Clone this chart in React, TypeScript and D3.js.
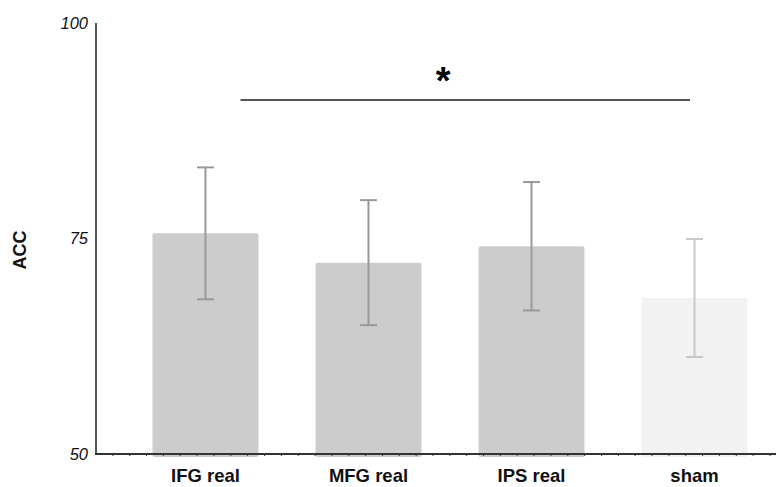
import React from "react";
import * as d3 from "d3";

const categories = ["IFG real", "MFG real", "IPS real", "sham"];
const means = [75.6, 72.2, 74.1, 68.1];
const errors = [7.65, 7.25, 7.45, 6.85];
const yTicks = [50, 75, 100];
const sigLabel = "*";

const W = 776;
const H = 487;
const FONT = "'Liberation Sans', Arial, Helvetica, sans-serif";

export default function App() {
  const y = d3.scaleLinear().domain([50, 100]).range([454, 23]);
  const x = d3.scaleBand<string>().domain(categories).range([152.5, 747.5]).paddingInner(0.35).paddingOuter(0);
  const bw = x.bandwidth();
  const axisX = 96;
  const minor = d3.range(1, 41).map((i) => axisX + i * 16.85).filter((v) => v < W);
  const barFill = (i: number) => (categories[i] === "sham" ? "#f2f2f2" : "#cccccc");
  const errColor = (i: number) => (categories[i] === "sham" ? "#c8c8c8" : "#999999");
  const sigX1 = (x("IFG real") as number) + 88;
  const sigX2 = (x("sham") as number) + 48.5;
  const sigY = 100;

  return (
    <svg width={W} height={H} style={{ position: "absolute", left: 0, top: 0, background: "#fff" }} fontFamily={FONT}>
      {/* bars */}
      {categories.map((c, i) => (
        <rect key={c} x={x(c)} y={y(means[i])} width={bw} height={y(50) - y(means[i]) + 3} rx={2} ry={2} fill={barFill(i)} />
      ))}
      {/* error bars */}
      {categories.map((c, i) => {
        const cx = (x(c) as number) + bw / 2;
        const top = y(means[i] + errors[i]);
        const bot = y(means[i] - errors[i]);
        return (
          <g key={c + "e"} stroke={errColor(i)} strokeWidth={2}>
            <line x1={cx} x2={cx} y1={top} y2={bot} />
            <line x1={cx - 8.5} x2={cx + 8.5} y1={top} y2={top} />
            <line x1={cx - 8.5} x2={cx + 8.5} y1={bot} y2={bot} />
          </g>
        );
      })}
      {/* y axis */}
      <line x1={axisX} x2={axisX} y1={y(100)} y2={y(50)} stroke="#555" strokeWidth={2} />
      {yTicks.map((t) => (
        <text key={t} x={88} y={y(t)} dy="0.36em" textAnchor="end" fontStyle="italic" fontSize={16.5} fill="#111">
          {t}
        </text>
      ))}
      <text transform={`translate(26,250) rotate(-90)`} textAnchor="middle" fontWeight="bold" fontSize={18} fill="#111">
        ACC
      </text>
      {/* x axis */}
      <line x1={axisX - 1} x2={W} y1={y(50)} y2={y(50)} stroke="#333" strokeWidth={2} />
      {minor.map((m, i) => (
        <line key={i} x1={m} x2={m} y1={y(50)} y2={y(50) + 2} stroke="#333" strokeWidth={1} />
      ))}
      {categories.map((c) => (
        <text key={c + "l"} x={(x(c) as number) + bw / 2} y={481.7} textAnchor="middle" fontWeight="bold" fontSize={18.5} fill="#111">
          {c}
        </text>
      ))}
      {/* significance */}
      <line x1={sigX1} x2={sigX2} y1={sigY} y2={sigY} stroke="#555" strokeWidth={2} />
      <text x={(sigX1 + sigX2) / 2 - 22} y={94} textAnchor="middle" fontWeight="bold" fontSize={38} fill="#000">
        {sigLabel}
      </text>
    </svg>
  );
}
